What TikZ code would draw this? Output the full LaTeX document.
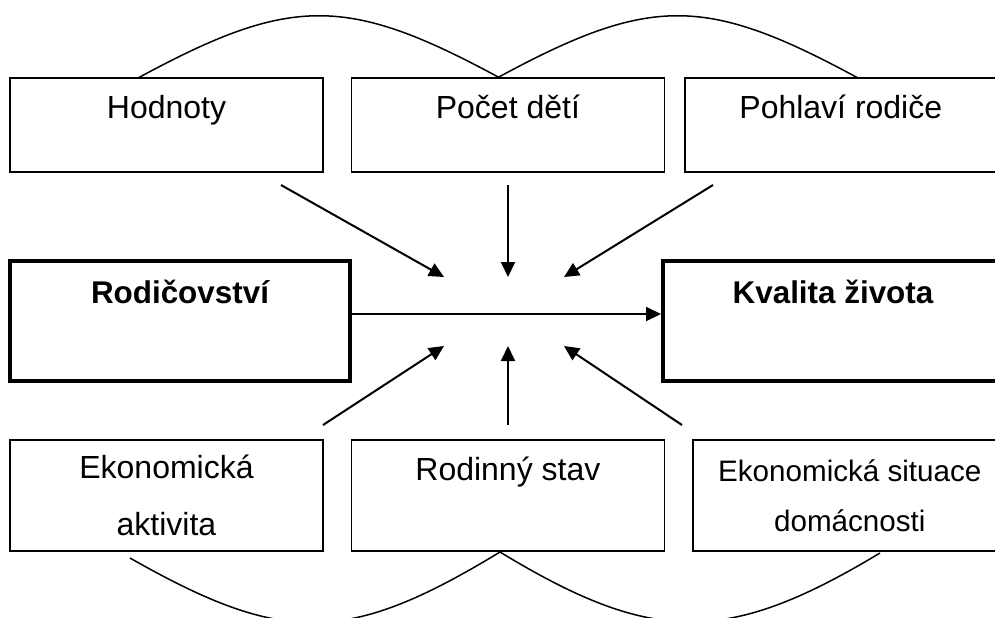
\documentclass[tikz,border=0pt]{standalone}
\usepackage{fontspec}
\setmainfont{Liberation Sans}
\usetikzlibrary{arrows.meta,positioning}
\tikzset{
block/.style={
  rectangle,
  draw,
  line width=0.7pt,
  fill=white,
  inner sep=0pt,
  minimum width=156.5pt,
  font=\fontsize{16pt}{28.5pt}\selectfont},
topblock/.style={block, text height=20pt, text depth=27pt},
lowblock/.style={block, align=center, minimum height=55.5pt},
bigblock/.style={
  rectangle,
  draw,
  line width=2pt,
  fill=white,
  inner sep=0pt,
  minimum width=170pt,
  text height=21pt,
  text depth=39pt,
  font=\fontsize{15.7pt}{18pt}\selectfont\bfseries},
line/.style={draw, line width=1pt, -{Triangle[length=7.5pt,width=7pt]}},
edge/.style={draw, line width=0.75pt}
}

\begin{document}
\begin{tikzpicture}[x=0.5pt, y=-0.5pt]
    \useasboundingbox (0,0) rectangle (995,617);
    \clip (0,0) rectangle (995,617);
    % arcs behind the boxes
    \path [edge] (138,78) .. controls (291,-5) and (347,-5) .. (500,78);
    \path [edge] (497,78) .. controls (650,-5) and (705,-5) .. (858,78);
    \path [edge] (130,558) .. controls (283,645) and (347,645) .. (500,552);
    \path [edge] (500,552) .. controls (653,645) and (727,645) .. (880,553);
    % factors
    \node [topblock] (hod) at (166.5,125) {Hodnoty};
    \node [topblock, right=13.5pt of hod] (pocet) {Počet dětí};
    \node [topblock, minimum width=156pt, right=9.5pt of pocet] (pohl) {Pohlaví rodiče};
    \node [lowblock] (ekakt) at (166.5,495.5) {Ekonomická\\aktivita};
    \node [lowblock, text height=20pt, text depth=35.5pt, right=13.5pt of ekakt] (stav) {Rodinný stav};
    \node [lowblock, minimum width=157pt, right=13.5pt of stav, %
      font=\fontsize{14.8pt}{25pt}\selectfont] (eksit) {Ekonomická situace\\domácnosti};
    % main relation
    \node [bigblock] (rod) at (180,321) {Rodičovství};
    \node [bigblock] (kval) at (833,321) {Kvalita života};
    \path [line] (rod.east |- 0,314) -- (kval.west |- 0,314);
    % moderators
    \coordinate (from-hod) at (281,185);
    \coordinate (from-pocet) at (508,185);
    \coordinate (from-pohl) at (713,185);
    \coordinate (from-ekakt) at (323,425);
    \coordinate (from-stav) at (508,425);
    \coordinate (from-eksit) at (682,425);
    \coordinate (hub-nw) at (444,277);
    \coordinate (hub-n) at (508,277);
    \coordinate (hub-ne) at (564,277);
    \coordinate (hub-sw) at (444,346);
    \coordinate (hub-s) at (508,346);
    \coordinate (hub-se) at (564,346);
    \path [line] (from-hod) -- (hub-nw);
    \path [line] (from-pocet) -- (hub-n);
    \path [line] (from-pohl) -- (hub-ne);
    \path [line] (from-ekakt) -- (hub-sw);
    \path [line] (from-stav) -- (hub-s);
    \path [line] (from-eksit) -- (hub-se);
\end{tikzpicture}
\end{document}
